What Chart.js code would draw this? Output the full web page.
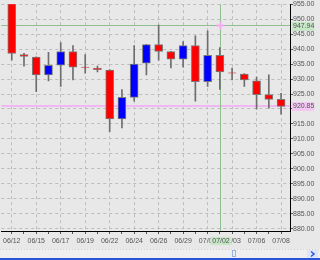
<!DOCTYPE html>
<html>
<head>
<meta charset="utf-8">
<script src="https://cdn.jsdelivr.net/npm/chart.js@4/dist/chart.umd.min.js"></script>
<style>
  html,body{margin:0;padding:0;background:#e8e8e8;}
  #wrap{width:320px;height:260px;position:relative;}
</style>
</head>
<body>
<div id="wrap"><canvas id="c" width="320" height="260"></canvas></div>
<script>
// ---- data ----
const dates = ['06/12','06/14','06/15','06/16','06/17','06/18','06/19','06/21','06/22','06/23','06/24','06/25','06/26','06/28','06/29','06/30','07/01','07/02','07/03','07/05','07/06','07/07','07/08'];
const openV  = [960.0, 938.2, 937.3, 931.4, 934.6, 939.2, 934.0, 933.7, 933.0, 916.7, 923.9, 935.3, 941.5, 939.2, 936.6, 941.2, 929.1, 937.9, 932.1, 931.7, 929.4, 924.8, 923.2];
const closeV = [938.6, 937.6, 931.4, 934.6, 939.2, 934.0, 933.9, 933.1, 916.7, 923.9, 935.0, 941.5, 939.2, 936.6, 941.2, 929.1, 937.9, 932.4, 932.0, 929.7, 924.8, 923.2, 920.85];
const highV  = [962.0, 938.6, 937.4, 938.9, 942.2, 941.2, 938.2, 934.3, 933.2, 926.5, 941.2, 941.6, 948.0, 939.3, 942.5, 944.4, 946.1, 940.5, 933.7, 931.8, 930.7, 931.4, 925.2];
const lowV   = [936.3, 934.3, 925.8, 929.4, 927.5, 929.7, 932.0, 932.4, 912.4, 913.7, 922.6, 931.4, 936.3, 933.7, 934.0, 922.6, 927.5, 926.5, 929.7, 927.5, 919.9, 920.3, 918.3];
const yTicks = [880, 885, 890, 895, 900, 905, 910, 915, 920, 925, 930, 935, 940, 945, 950, 955];
const crossIndex = 17;      // 07/02 crosshair
const crossValue = 947.94;  // crosshair price
const lastValue = 920.85;   // last close line

const UP = '#0000ff', DOWN = '#ff0000';
const FONT = 'Liberation Sans, Arial, sans-serif';

const bodies = dates.map((d,i)=>({x:i, y:[openV[i], closeV[i]]}));
const wicks  = dates.map((d,i)=>({x:i, y:[lowV[i], highV[i]]}));
const bodyColors = dates.map((d,i)=> closeV[i] < openV[i] ? DOWN : UP);

const deco = {
  id:'deco',
  beforeDraw(chart){
    const ctx = chart.ctx;
    ctx.save();
    ctx.fillStyle = '#e8e8e8';
    ctx.fillRect(0,0,chart.width,chart.height);
    ctx.restore();
  },
  beforeDatasetsDraw(chart){
    const {ctx, chartArea:a, scales:{x,y}} = chart;
    ctx.save();
    // pink last-value line
    const yl = Math.round(y.getPixelForValue(lastValue));
    ctx.fillStyle = '#f2b6f2';
    ctx.fillRect(a.left, yl-1, a.right-a.left, 2);
    // green crosshair
    const xc = Math.round(x.getPixelForValue(crossIndex)) + 0.5;
    const yc = Math.round(y.getPixelForValue(crossValue)) + 0.5;
    ctx.strokeStyle = '#8fbf8f';
    ctx.lineWidth = 1;
    ctx.beginPath();
    ctx.moveTo(xc, a.top); ctx.lineTo(xc, a.bottom);
    ctx.moveTo(a.left, yc); ctx.lineTo(a.right, yc);
    ctx.stroke();
    ctx.restore();
  },
  afterDraw(chart){
    const {ctx, chartArea:a, scales:{x,y}} = chart;
    ctx.save();
    const xc = Math.round(x.getPixelForValue(crossIndex)) + 0.5;
    const yc = Math.round(y.getPixelForValue(crossValue)) + 0.5;
    // pink + marker
    ctx.strokeStyle = '#f4a8f4';
    ctx.lineWidth = 2;
    ctx.beginPath();
    ctx.moveTo(xc-4, yc); ctx.lineTo(xc+4, yc);
    ctx.moveTo(xc, yc-4); ctx.lineTo(xc, yc+4);
    ctx.stroke();
    ctx.font = '7px ' + FONT;
    ctx.textBaseline = 'middle';
    ctx.textAlign = 'left';
    // value labels on right axis
    const yl = y.getPixelForValue(lastValue);
    ctx.fillStyle = '#f2c8f2';
    ctx.fillRect(a.right+2, Math.round(yl)-4, 22, 9);
    ctx.fillStyle = '#555';
    ctx.fillText(lastValue.toFixed(2), a.right+3, Math.round(yl)+0.5);
    ctx.fillStyle = '#c6e6c6';
    ctx.fillRect(a.right+2, Math.round(yc)-4, 22, 9);
    ctx.fillStyle = '#555';
    ctx.fillText(crossValue.toFixed(2), a.right+3, Math.round(yc)+0.5);
    // date label box on x axis
    ctx.textAlign = 'center';
    ctx.fillStyle = '#c6e6c6';
    ctx.fillRect(xc-10, 237, 21, 8);
    ctx.fillStyle = '#555';
    ctx.fillText(dates[crossIndex], xc+0.5, 241);
    // scrollbar strip
    ctx.fillStyle = '#efefef';
    ctx.fillRect(0, 249, chart.width, 9);
    ctx.strokeStyle = '#cfcfcf';
    ctx.setLineDash([1,2]);
    ctx.lineWidth = 1;
    ctx.beginPath(); ctx.moveTo(0,249.5); ctx.lineTo(chart.width,249.5); ctx.stroke();
    ctx.setLineDash([]);
    ctx.fillStyle = '#2a55d8';
    ctx.fillRect(0, 258, chart.width, 2);
    // thumb
    ctx.strokeStyle = '#9ab4e8';
    ctx.strokeRect(232.5, 250.5, 3, 6);
    // arrow button
    ctx.fillStyle = '#dde6f8';
    ctx.fillRect(307, 250, 11, 8);
    ctx.strokeStyle = '#2a55d8';
    ctx.lineWidth = 1.5;
    ctx.beginPath(); ctx.moveTo(311,251.5); ctx.lineTo(314,254); ctx.lineTo(311,256.5); ctx.stroke();
    ctx.restore();
  }
};

new Chart(document.getElementById('c'), {
  type:'bar',
  data:{
    datasets:[
      {label:'body', data:bodies, backgroundColor:bodyColors, borderColor:'#7a7a7a', borderWidth:1,
       borderSkipped:false, barThickness:8, grouped:false, order:1},
      {label:'wick', data:wicks, backgroundColor:'#6e6e6e', borderWidth:0,
       barThickness:1, grouped:false, order:2}
    ]
  },
  options:{
    responsive:false, animation:false, devicePixelRatio:1,
    layout:{padding:0, autoPadding:false},
    plugins:{legend:{display:false}, tooltip:{enabled:false}},
    scales:{
      x:{
        type:'linear', position:'bottom', min:-0.854, max:22.73, offset:false,
        afterBuildTicks(s){ s.ticks = dates.map((d,i)=>({value:i})); },
        afterFit(s){ s.height = 29; },
        ticks:{autoSkip:false, maxRotation:0, padding:3, color:'#555',
          font:{family:FONT, size:7},
          callback:(v)=> (v % 2 === 0 ? dates[v] : '')},
        grid:{color:(c)=> (c.tick && c.tick.value % 2 === 0 ? '#bdbdbd' : 'rgba(0,0,0,0)'),
          tickColor:'#555', tickLength:3, tickWidth:1, offset:false},
        border:{display:true, color:'#000', width:1, dash:[3,3]}
      },
      y:{
        type:'linear', position:'right', min:879.25, max:955,
        afterBuildTicks(s){ s.ticks = yTicks.map(v=>({value:v})); },
        afterFit(s){ s.width = 30; },
        ticks:{padding:0, color:'#555', font:{family:FONT, size:7},
          callback:(v)=> Number(v).toFixed(2)},
        grid:{color:'#bdbdbd', tickColor:'#555', tickLength:3, tickWidth:1},
        border:{display:true, color:'#000', width:1, dash:[3,3]}
      }
    }
  },
  plugins:[deco]
});
</script>
</body>
</html>
